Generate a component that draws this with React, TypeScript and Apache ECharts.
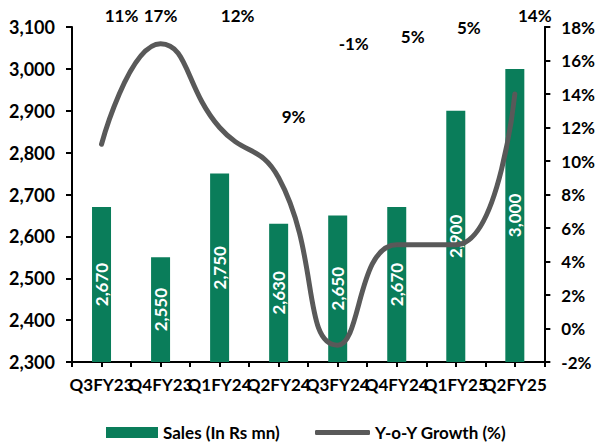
import React, { useEffect, useRef } from "react";
import * as echarts from "echarts";

const quarters = ["Q3FY23", "Q4FY23", "Q1FY24", "Q2FY24", "Q3FY24", "Q4FY24", "Q1FY25", "Q2FY25"];
const sales = [2670, 2550, 2750, 2630, 2650, 2670, 2900, 3000];
const growth = [11, 17, 12, 9, -1, 5, 5, 14];
// label placement (dx, dy) relative to each growth point
const growthLabelOffsets = [
  [20, -129],
  [0, -28],
  [18, -112],
  [15, -61],
  [16, -302],
  [16, -208],
  [13, -217],
  [20, -79],
];

const FONT = "Lato, 'Open Sans', sans-serif";
const GREEN = "#0A7D5A";
const GREY = "#595959";

export default function App() {
  const ref = useRef<HTMLDivElement>(null);

  useEffect(() => {
    if (!ref.current) return;
    const chart = echarts.init(ref.current, null, { renderer: "svg" });
    const textBase = { fontFamily: FONT, fontWeight: "bold" as const, color: "#000", fontSize: 17 };
    chart.setOption({
      animation: false,
      grid: { left: 72, right: 48, top: 27, bottom: 83 },
      legend: [
        {
          data: ["Sales (In Rs mn)"],
          left: 106,
          top: 424,
          padding: 0,
          itemWidth: 52,
          itemHeight: 11,
          icon: "rect",
          textStyle: { ...textBase, fontSize: 17 },
        },
        {
          data: ["Y-o-Y Growth (%)"],
          left: 315,
          top: 424,
          padding: 0,
          itemWidth: 55,
          itemHeight: 5,
          icon: "roundRect",
          textStyle: { ...textBase, fontSize: 17 },
        },
      ],
      xAxis: [
        {
          type: "category",
          data: quarters,
          position: "bottom",
          axisLine: { onZero: false, lineStyle: { color: "#000", width: 2 } },
          axisTick: { show: true, length: 5, lineStyle: { color: "#000", width: 2 } },
          axisLabel: { ...textBase, margin: 14, interval: 0 },
        },
        {
          type: "category",
          data: quarters,
          position: "bottom",
          axisLine: { show: false, onZero: false },
          axisTick: { show: true, alignWithLabel: true, length: 5, lineStyle: { color: "#000", width: 2 } },
          axisLabel: { show: false },
        },
      ],
      yAxis: [
        {
          type: "value",
          min: 2300,
          max: 3100,
          interval: 100,
          position: "left",
          splitLine: { show: false },
          axisLine: { show: true, onZero: false, lineStyle: { color: "#000", width: 2 } },
          axisTick: { show: true, length: 6, lineStyle: { color: "#000", width: 2 } },
          axisLabel: {
            ...textBase,
            fontSize: 18,
            margin: 17,
            formatter: (v: number) => v.toLocaleString("en-US"),
          },
        },
        {
          type: "value",
          min: -2,
          max: 18,
          interval: 2,
          position: "right",
          splitLine: { show: false },
          axisLine: { show: true, onZero: false, lineStyle: { color: "#000", width: 2 } },
          axisTick: { show: true, length: 6, lineStyle: { color: "#000", width: 2 } },
          axisLabel: { ...textBase, margin: 17, formatter: (v: number) => `${v}%` },
        },
      ],
      series: [
        {
          name: "Sales (In Rs mn)",
          type: "bar",
          data: sales,
          barWidth: 19,
          itemStyle: { color: GREEN },
          label: {
            show: true,
            position: "inside",
            rotate: 90,
            ...textBase,
            color: "#fff",
            formatter: (p: any) => Number(p.value).toLocaleString("en-US"),
          },
        },
        {
          name: "Y-o-Y Growth (%)",
          type: "line",
          yAxisIndex: 1,
          smooth: 0.5,
          symbol: "circle",
          symbolSize: 1,
          itemStyle: { color: GREY },
          lineStyle: { color: GREY, width: 5, cap: "round" },
          data: growth.map((v, i) => ({
            value: v,
            label: { offset: growthLabelOffsets[i] },
          })),
          label: {
            show: true,
            position: "inside",
            ...textBase,
            formatter: (p: any) => `${p.value}%`,
          },
        },
      ],
    });
    return () => chart.dispose();
  }, []);

  return (
    <div
      ref={ref}
      style={{ position: "absolute", left: 0, top: 0, width: 598, height: 445 }}
    />
  );
}
